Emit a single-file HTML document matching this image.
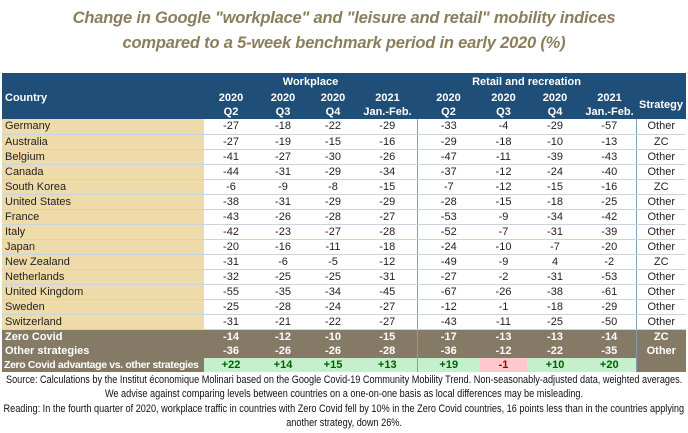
<!DOCTYPE html>
<html><head><meta charset="utf-8">
<style>
body{margin:0;width:688px;height:433px;background:#fff;font-family:"Liberation Sans",sans-serif;overflow:hidden;position:relative}
.title{position:absolute;left:0;width:688px;text-align:center;color:#8c7d5c;font-weight:bold;font-style:italic;font-size:16.5px;letter-spacing:-0.2px}
table{position:absolute;left:2px;top:73px;width:684px;border-collapse:collapse;table-layout:fixed;font-size:11px}
td{padding:0;text-align:center;height:14px;line-height:14px;border-bottom:1px solid #c9d6e0;overflow:hidden;white-space:nowrap;box-sizing:border-box}
tr.w td{height:15px}
.h td{background:#1f4e79;color:#fff;font-weight:bold;border:none;height:14px;line-height:14px}
.c{text-align:left;padding-left:3px;background:#efdaa9;color:#222}
.w td.v{background:#fff;color:#222}
.sep{border-right:1px solid #7f9fb8}
.g td{background:#857a66;color:#fff;font-weight:bold;border-bottom:none;height:14px;line-height:14px}
.g td.c{background:#857a66;color:#fff}
td.tight{font-size:10.5px;letter-spacing:-0.35px;padding-left:2px}
td.pos{background:#c6efce!important;color:#006100!important}
td.neg{background:#ffc7ce!important;color:#9c0006!important}
.note{position:absolute;left:344px;font-size:11px;line-height:12px;color:#111;white-space:nowrap;transform-origin:0 0}
</style></head><body>
<div class="title" style="top:9px">Change in Google "workplace" and "leisure and retail" mobility indices</div>
<div class="title" style="top:34px">compared to a 5-week benchmark period in early 2020 (%)</div>
<table>
<colgroup><col style="width:202px"><col style="width:54px"><col style="width:50px"><col style="width:50px"><col style="width:59px"><col style="width:63px"><col style="width:47px"><col style="width:56px"><col style="width:53px"><col style="width:50px"></colgroup>
<tr class="h"><td style="height:18px"></td><td colspan="4" class="sep" style="height:18px">Workplace</td><td colspan="4" class="sep">Retail and recreation</td><td></td></tr>
<tr class="h"><td style="text-align:left;padding-left:3px">Country</td><td>2020</td><td>2020</td><td>2020</td><td class="sep">2021</td><td>2020</td><td>2020</td><td>2020</td><td class="sep">2021</td><td rowspan="2" style="vertical-align:middle">Strategy</td></tr>
<tr class="h"><td></td><td>Q2</td><td>Q3</td><td>Q4</td><td class="sep">Jan.-Feb.</td><td>Q2</td><td>Q3</td><td>Q4</td><td class="sep">Jan.-Feb.</td></tr>
<tbody id="body"></tbody>
</table>
<div class="note" style="top:374px">Source: Calculations by the Institut économique Molinari based on the Google Covid-19 Community Mobility Trend. Non-seasonably-adjusted data, weighted averages.</div>
<div class="note" style="top:388px">We advise against comparing levels between countries on a one-on-one basis as local differences may be misleading.</div>
<div class="note" style="top:403px">Reading: In the fourth quarter of 2020, workplace traffic in countries with Zero Covid fell by 10% in the Zero Covid countries, 16 points less than in the countries applying</div>
<div class="note" style="top:417px">another strategy, down 26%.</div>
<script>
const countries=["Germany","Australia","Belgium","Canada","South Korea","United States","France","Italy","Japan","New Zealand","Netherlands","United Kingdom","Sweden","Switzerland"];
const workplace=[[-27,-18,-22,-29],[-27,-19,-15,-16],[-41,-27,-30,-26],[-44,-31,-29,-34],[-6,-9,-8,-15],[-38,-31,-29,-29],[-43,-26,-28,-27],[-42,-23,-27,-28],[-20,-16,-11,-18],[-31,-6,-5,-12],[-32,-25,-25,-31],[-55,-35,-34,-45],[-25,-28,-24,-27],[-31,-21,-22,-27]];
const retail=[[-33,-4,-29,-57],[-29,-18,-10,-13],[-47,-11,-39,-43],[-37,-12,-24,-40],[-7,-12,-15,-16],[-28,-15,-18,-25],[-53,-9,-34,-42],[-52,-7,-31,-39],[-24,-10,-7,-20],[-49,-9,4,-2],[-27,-2,-31,-53],[-67,-26,-38,-61],[-12,-1,-18,-29],[-43,-11,-25,-50]];
const strategy=["Other","ZC","Other","Other","ZC","Other","Other","Other","Other","ZC","Other","Other","Other","Other"];
const zcRow=[-14,-12,-10,-15,-17,-13,-13,-14];
const otherRow=[-36,-26,-26,-28,-36,-12,-22,-35];
const advRow=[22,14,15,13,19,-1,10,20];
const tb=document.getElementById('body');
function cell(tr,txt,cls){const td=document.createElement('td');td.textContent=txt;if(cls)td.className=cls;tr.appendChild(td);return td;}
countries.forEach((c,i)=>{
 const tr=document.createElement('tr');tr.className='w';
 
 
 cell(tr,c,'c');
 workplace[i].forEach((v,j)=>cell(tr,v,'v'+(j==3?' sep':'')));
 retail[i].forEach((v,j)=>cell(tr,v,'v'+(j==3?' sep':'')));
 cell(tr,strategy[i],'v');
 tb.appendChild(tr);
});
function grp(name,label,vals,last,adv){
 const tr=document.createElement('tr');tr.className='g';
 
 
 cell(tr,label,adv?'c tight':'c');
 vals.forEach((v,j)=>{let t=adv?(v>0?'+'+v:''+v):v;cell(tr,t,(adv?(v>0?'pos':'neg'):'')+(j==3||j==7?' sep':''));});
 cell(tr,last,'');
 tb.appendChild(tr);
}
grp('row-zero-covid','Zero Covid',zcRow,'ZC');
grp('row-other-strategies','Other strategies',otherRow,'Other');
grp('row-zero-covid-advantage','Zero Covid advantage vs. other strategies',advRow,'',true);
const notes=document.querySelectorAll('.note');
const s=676/notes[0].offsetWidth;
notes.forEach(n=>{const w=n.offsetWidth*s;n.style.transform='translateX('+(-w/2)+'px) scaleX('+s+')';});
</script>
</body></html>
